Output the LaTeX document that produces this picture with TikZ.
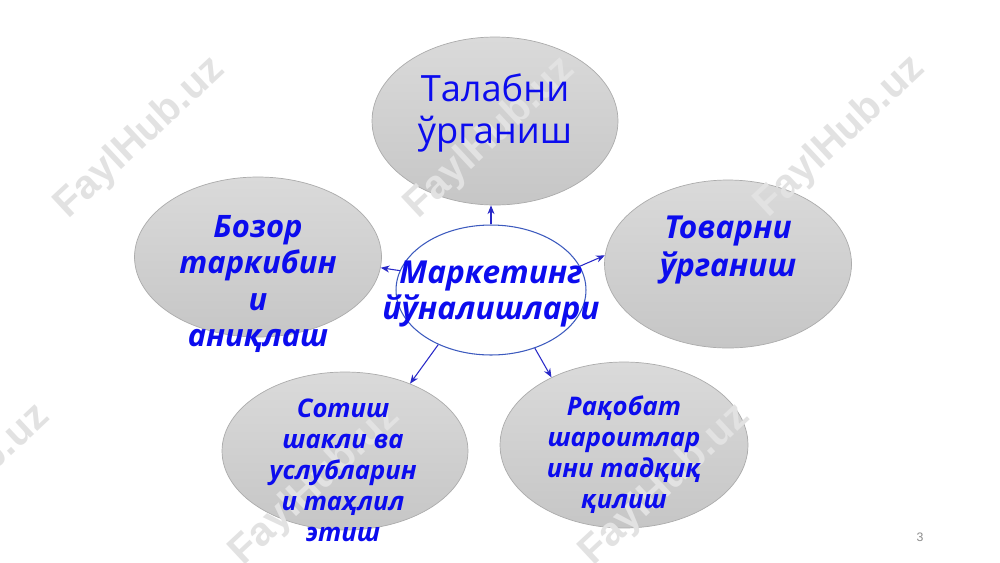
\documentclass[tikz,border=0pt]{standalone}
\usepackage{fontspec}
\setmainfont{Noto Sans}
\newfontfamily\lblfont{Open Sans}
\newfontfamily\wmfont{Liberation Sans}
\usetikzlibrary{shapes.geometric,arrows.meta,calc}
\definecolor{txtblue}{RGB}{12,12,238}
\definecolor{lineblue}{RGB}{40,40,200}
\definecolor{ringblue}{RGB}{60,90,190}
\definecolor{shadetop}{RGB}{218,218,218}
\definecolor{shadebot}{RGB}{198,198,198}
\definecolor{rimgray}{RGB}{172,172,172}
\definecolor{wmgray}{RGB}{226,226,226}
\definecolor{pagegray}{RGB}{140,140,140}
\begin{document}
\begin{tikzpicture}[x=0.02cm,y=-0.02cm,
  bubble/.style={ellipse, draw=rimgray, line width=0.4pt, top color=shadetop, bottom color=shadebot, inner sep=0pt},
  hub/.style={ellipse, draw=ringblue, line width=0.6pt, fill=white, inner sep=0pt, minimum width=3.8cm, minimum height=2.6cm},
  lblhub/.style={text=txtblue, align=center, inner sep=0pt, font=\lblfont\fontsize{18}{20.4}\selectfont\bfseries\itshape},
  lblbig/.style={text=txtblue, align=center, inner sep=0pt, font=\lblfont\fontsize{17.6}{20.8}\selectfont\bfseries\itshape},
  lblright/.style={text=txtblue, align=center, inner sep=0pt, font=\lblfont\fontsize{18}{21.5}\selectfont\bfseries\itshape},
  lblsmall/.style={text=txtblue, align=center, inner sep=0pt, font=\lblfont\fontsize{14.6}{17.6}\selectfont\bfseries\itshape},
  lbltop/.style={text=txtblue, align=center, inner sep=0pt, font=\lblfont\fontsize{20.6}{24.4}\selectfont},
  conn/.style={draw=lineblue, line width=0.6pt, -{Stealth[length=5pt,width=4pt]}},
  wm/.style={text=wmgray, rotate=43, inner sep=0pt, font=\wmfont\bfseries\fontsize{23}{23}\selectfont}]
\useasboundingbox (0,0) rectangle (1000,562);
\fill[white] (0,0) rectangle (1000,562);
\begin{scope}
\clip (0,0) rectangle (1000,562);
% bubbles
\node[bubble, minimum width=4.92cm, minimum height=3.36cm] (top) at (495,121) {};
\node[bubble, minimum width=4.94cm, minimum height=3.20cm] (lft) at (258,257) {};
\node[bubble, minimum width=4.94cm, minimum height=3.36cm] (rgt) at (728,264) {};
\node[bubble, minimum width=4.92cm, minimum height=3.16cm] (bl) at (345,451) {};
\node[bubble, minimum width=4.96cm, minimum height=3.32cm] (br) at (624,445) {};
% hub
\node[hub] (c) at (491,290) {};
% connectors
\draw[conn] (c.north) -- (c.north |- top.south);
\draw[conn] (c.168.6) -- (lft.-5);
\draw[conn] (c.15.9) -- (rgt.176.7);
\draw[conn] (c.226.6) -- (bl.46.6);
\draw[conn] (c.-53.3) -- (br.137.8);
% watermarks
\node[wm] (w1) at (140,138) {FaylHub.uz};
\node[wm] (w2) at (490,138) {FaylHub.uz};
\node[wm] (w3) at (840,137) {FaylHub.uz};
\node[wm] (w4) at (-35,485) {FaylHub.uz};
\node[wm] (w5) at (315,485) {FaylHub.uz};
\node[wm] (w6) at (665,485) {FaylHub.uz};
\end{scope}
% labels
\node[lbltop] (t1) at (495,113) {Талабни\\ўрганиш};
\node[lblhub] (t0) at (491,294) {Маркетинг\\йўналишлари};
\node[lblbig] (t2) at (258,284) {Бозор\\таркибин\\и\\аниқлаш};
\node[lblright] (t3) at (728,250) {Товарни\\ўрганиш};
\node[lblsmall] (t4) at (343,470) {Сотиш\\шакли ва\\услубларин\\и таҳлил\\этиш};
\node[lblsmall] (t5) at (624,455) {Рақобат\\шароитлар\\ини тадқиқ\\қилиш};
\node[text=pagegray, inner sep=0pt, font=\wmfont\fontsize{7}{7}\selectfont] (pg) at (920,537) {3};
\end{tikzpicture}
\end{document}
